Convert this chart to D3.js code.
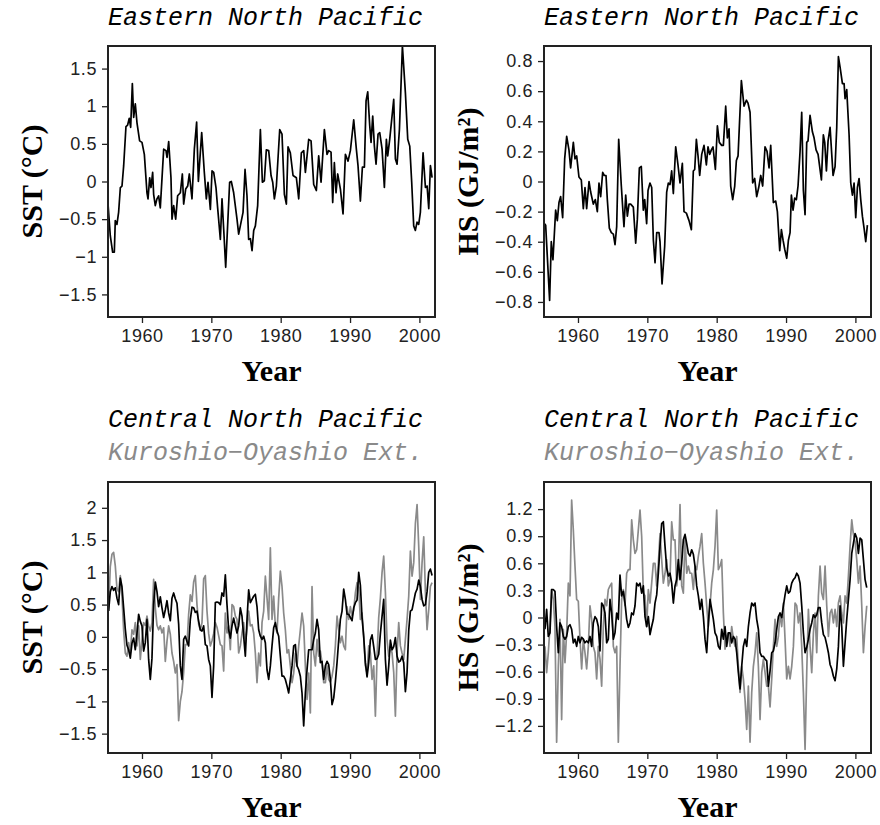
<!DOCTYPE html>
<html>
<head>
<meta charset="utf-8">
<script src="https://cdn.jsdelivr.net/npm/d3@7"></script>
<style>
  body { margin: 0; background: #fff; }
</style>
</head>
<body>
<div id="chart"></div>
<script>
// ---- data ----
const xTicks = [1960, 1970, 1980, 1990, 2000];
const sstTicksTop = [-1.5, -1, -0.5, 0, 0.5, 1, 1.5];
const hsTicksTop = [-0.8, -0.6, -0.4, -0.2, 0, 0.2, 0.4, 0.6, 0.8];
const sstTicksBottom = [-1.5, -1, -0.5, 0, 0.5, 1, 1.5, 2];
const hsTicksBottom = [-1.2, -0.9, -0.6, -0.3, 0, 0.3, 0.6, 0.9, 1.2];

// Eastern North Pacific SST (year, degC)
const enpSstYear = [
  1955.05,1955.43,1955.77,1956.01,1956.15,1956.39,1956.63,1956.88,1957.12,1957.36,
  1957.69,1957.93,1958.17,1958.37,1958.61,1958.80,1959.04,1959.28,1959.66,1960.00,
  1960.34,1960.72,1960.87,1961.11,1961.30,1961.54,1961.68,1961.92,1962.16,1962.40,
  1962.64,1963.13,1963.46,1963.61,1963.85,1964.18,1964.33,1964.57,1964.86,1965.14,
  1965.53,1965.82,1966.01,1966.30,1966.59,1966.83,1967.21,1967.55,1967.88,1968.13,
  1968.61,1968.99,1969.28,1969.52,1969.86,1970.10,1970.34,1970.67,1970.91,1971.30,
  1971.54,1971.78,1972.07,1972.64,1972.88,1973.22,1973.70,1973.94,1974.18,1974.57,
  1974.86,1975.14,1975.38,1975.63,1975.87,1976.11,1976.35,1976.68,1977.07,1977.36,
  1977.64,1977.93,1978.27,1978.61,1978.85,1979.09,1979.38,1979.86,1980.19,1980.53,
  1980.82,1981.06,1981.39,1981.78,1982.26,1982.60,1982.98,1983.32,1983.56,1984.04,
  1984.38,1984.76,1985.14,1985.48,1985.82,1986.30,1986.68,1986.92,1987.26,1987.50,
  1987.74,1987.98,1988.22,1988.61,1988.99,1989.33,1989.71,1990.05,1990.53,1990.91,
  1991.15,1991.49,1991.78,1992.07,1992.31,1992.55,1992.84,1993.03,1993.27,1993.51,
  1993.75,1994.04,1994.28,1994.62,1994.95,1995.24,1995.43,1995.72,1996.30,1996.54,
  1996.78,1997.12,1997.55,1997.98,1998.32,1998.61,1998.89,1999.18,1999.42,1999.66,
  1999.90,2000.14,2000.53,2000.87,2001.11,2001.35,2001.59,2001.83
];
const enpSst = [
  -0.23,-0.72,-0.94,-0.94,-0.52,-0.57,-0.41,-0.08,-0.06,0.21,
  0.73,0.75,0.84,0.72,1.30,0.85,1.03,0.78,0.54,0.52,
  0.36,-0.15,-0.23,0.05,-0.08,0.12,-0.17,-0.32,-0.23,-0.19,
  -0.35,0.43,0.41,0.32,0.53,0.05,-0.50,-0.32,-0.50,-0.19,
  -0.15,0.10,-0.30,-0.10,-0.06,0.10,-0.23,0.43,0.79,0.00,
  0.65,0.12,-0.23,-0.01,-0.37,0.14,0.12,-0.08,-0.35,-0.77,
  -0.23,-0.63,-1.14,-0.01,0.00,-0.15,-0.50,-0.70,-0.59,-0.41,
  0.16,-0.19,-0.77,-0.76,-0.92,-0.65,-0.59,-0.32,0.69,-0.01,
  0.01,0.42,0.41,0.08,-0.01,-0.23,-0.06,0.69,0.63,-0.17,
  -0.30,0.46,0.38,0.08,0.05,-0.23,0.38,0.41,0.12,0.56,
  0.54,-0.04,-0.12,0.34,-0.01,0.69,0.36,0.41,0.39,-0.28,
  0.25,-0.15,0.10,-0.10,-0.43,0.36,0.27,0.41,0.82,0.43,
  0.21,-0.26,0.19,0.19,1.07,1.19,0.74,0.52,0.87,0.47,
  0.23,0.63,0.65,0.43,-0.08,0.56,0.34,0.56,1.09,0.30,
  0.23,0.69,1.80,1.18,0.56,0.47,-0.01,-0.59,-0.65,-0.54,
  -0.57,-0.41,0.38,-0.08,-0.06,-0.36,0.21,0.05
];

// Eastern North Pacific heat storage (year, GJ/m2)
const enpHsYear = [
  1955.19,1955.34,1955.58,1955.91,1956.15,1956.39,1956.78,1957.02,1957.26,1957.50,
  1957.79,1958.08,1958.37,1958.70,1958.94,1959.33,1959.57,1959.81,1960.14,1960.48,
  1960.77,1961.01,1961.25,1961.59,1961.83,1962.21,1962.50,1962.79,1963.03,1963.27,
  1963.56,1963.80,1964.04,1964.23,1964.52,1964.81,1965.10,1965.34,1965.58,1965.87,
  1966.25,1966.54,1966.63,1966.88,1967.12,1967.36,1967.60,1967.98,1968.32,1968.56,
  1968.85,1969.13,1969.42,1969.62,1969.90,1970.10,1970.38,1970.63,1970.87,1971.11,
  1971.35,1971.68,1971.83,1972.12,1972.50,1972.79,1973.03,1973.27,1973.51,1973.75,
  1974.09,1974.42,1974.71,1975.05,1975.29,1975.63,1976.01,1976.35,1976.63,1976.83,
  1977.07,1977.31,1977.55,1977.84,1978.17,1978.51,1978.75,1978.99,1979.23,1979.47,
  1979.81,1980.10,1980.38,1980.72,1980.96,1981.30,1981.54,1981.78,1982.02,1982.31,
  1982.60,1982.84,1983.08,1983.56,1983.94,1984.28,1984.52,1984.81,1985.19,1985.48,
  1985.77,1986.06,1986.35,1986.63,1986.97,1987.26,1987.55,1987.79,1988.17,1988.51,
  1988.75,1989.09,1989.33,1989.57,1989.81,1990.10,1990.34,1990.58,1990.77,1991.01,
  1991.25,1991.49,1991.73,1992.02,1992.26,1992.50,1992.74,1992.98,1993.17,1993.46,
  1993.80,1994.04,1994.33,1994.62,1994.90,1995.10,1995.38,1995.58,1995.82,1996.06,
  1996.35,1996.59,1996.78,1997.07,1997.31,1997.55,1997.79,1998.13,1998.37,1998.51,
  1998.75,1999.09,1999.33,1999.57,1999.81,2000.05,2000.29,2000.53,2000.77,2001.01,
  2001.25,2001.49,2001.73
];
const enpHs = [
  -0.28,-0.29,-0.50,-0.79,-0.40,-0.52,-0.19,-0.26,-0.14,-0.10,
  -0.24,0.15,0.30,0.21,0.09,0.26,0.15,0.17,0.03,0.01,
  -0.18,-0.04,-0.18,0.00,-0.07,-0.15,-0.12,-0.20,-0.01,-0.10,
  0.06,0.04,0.04,-0.12,-0.31,-0.34,-0.35,-0.42,-0.30,0.28,
  -0.03,-0.24,-0.30,-0.09,-0.23,-0.15,-0.15,-0.17,-0.41,-0.25,
  0.09,0.10,-0.19,-0.12,-0.28,-0.06,-0.01,-0.04,-0.39,-0.54,
  -0.34,-0.34,-0.40,-0.68,-0.43,-0.07,-0.01,-0.02,0.07,-0.08,
  0.23,0.11,-0.01,0.12,-0.20,-0.21,-0.26,-0.32,0.07,0.08,
  0.28,0.17,0.04,0.18,0.24,0.11,0.23,0.18,0.21,0.23,
  0.08,0.37,0.26,0.24,0.24,0.50,0.29,0.35,-0.03,-0.12,
  -0.03,0.14,0.17,0.67,0.50,0.54,0.52,0.46,-0.01,0.02,
  -0.10,-0.04,0.04,-0.03,0.23,0.20,0.09,0.24,-0.14,-0.13,
  -0.20,-0.46,-0.32,-0.39,-0.45,-0.51,-0.39,-0.34,-0.09,-0.19,
  -0.11,-0.12,-0.03,0.20,0.46,-0.06,-0.22,0.26,0.27,0.44,
  0.33,0.29,0.21,0.18,0.08,0.01,0.31,0.26,0.07,0.27,
  0.36,0.18,0.04,0.10,0.36,0.83,0.76,0.65,0.65,0.55,
  0.61,0.31,-0.01,-0.09,-0.01,-0.24,-0.04,0.02,-0.12,-0.23,
  -0.31,-0.40,-0.29
];

// bottom panels: evenly spaced samples (about 0.24 yr apart)
const sampleStep = 0.2404;
const sstStart = 1955.19;
const hsStart = 1955.24;

// Central North Pacific SST
const cnpSst = [
  0.40,0.70,0.78,0.72,0.76,0.60,0.50,0.91,0.78,0.45,
  0.12,-0.13,-0.20,-0.33,-0.10,-0.02,-0.20,0.05,0.35,0.24,
  0.17,-0.22,-0.09,0.27,-0.35,-0.66,-0.33,0.50,0.85,0.70,
  0.47,0.62,0.45,0.30,0.42,0.56,0.37,0.25,0.60,0.68,
  0.59,0.52,0.20,-0.45,-0.66,-0.04,0.01,-0.07,-0.14,0.27,
  0.46,0.45,0.38,0.40,0.24,0.11,0.09,0.17,-0.12,-0.14,
  -0.35,-0.45,-0.94,-0.45,0.53,0.54,0.53,0.50,
  0.68,0.63,0.96,0.50,0.11,-0.02,0.17,0.29,0.17,0.06,
  0.17,0.45,0.32,0.01,-0.30,0.27,0.73,0.53,0.58,0.63,
  0.66,0.47,0.11,0.01,-0.04,0.01,-0.09,-0.51,-0.66,-0.45,
  -0.14,0.14,0.22,0.09,0.01,-0.30,-0.61,-0.61,-0.66,-0.76,
  -0.87,-0.66,-0.45,-0.14,-0.12,-0.45,-0.51,-0.61,-0.87,-1.38,
  -0.87,-0.51,-0.20,-0.20,-0.20,-0.04,0.06,0.27,0.11,-0.40,
  -0.38,-0.66,-0.45,-0.38,-0.43,-0.66,
  -1.05,-0.95,-0.70,-0.40,-0.05,0.27,0.40,0.74,0.58,0.35,
  0.35,0.30,0.25,0.45,0.53,0.57,1.00,0.80,0.30,0.00,
  -0.40,-0.62,-0.40,-0.05,0.03,-0.15,-0.35,-0.34,-0.27,0.05,
  0.32,0.58,-0.35,-0.75,-0.45,-0.05,-0.20,-0.15,-0.01,-0.30,
  -0.39,-0.37,-0.30,-0.40,-0.85,-0.55,0.10,0.40,0.42,0.55,
  0.68,0.74,0.88,0.78,0.58,0.48,0.50,0.70,1.00,1.05,
  0.95
];
// Kuroshio-Oyashio Extension SST
const koeSst = [
  0.40,1.09,1.28,1.31,1.10,0.75,0.70,0.95,0.63,0.11,
  -0.25,-0.30,-0.09,-0.25,0.11,0.04,0.22,-0.14,0.17,-0.35,
  -0.05,0.22,0.18,0.32,0.17,0.09,0.22,0.89,0.45,0.18,
  0.11,0.17,0.06,0.14,-0.38,-0.07,0.17,0.04,-0.25,-0.38,
  -0.56,-0.43,-1.30,-1.00,-0.85,-0.55,-0.12,-0.12,0.35,0.65,
  0.55,0.85,0.95,0.50,0.20,0.10,0.22,0.90,0.95,0.40,
  0.05,-0.14,-0.06,0.05,0.22,0.15,0.02,-0.12,
  -0.14,-0.53,0.37,0.06,0.17,-0.20,0.50,0.47,0.32,0.27,
  -0.25,-0.14,0.06,0.22,-0.09,0.11,0.40,0.17,0.19,0.06,
  -0.25,-0.71,-0.25,-0.45,0.22,0.40,0.94,0.60,0.27,1.38,
  0.27,0.63,0.17,0.06,0.60,1.02,0.78,0.37,0.11,-0.25,
  -0.20,-0.45,-0.71,-0.56,-0.25,-0.45,-0.14,0.11,0.37,0.17,
  -0.45,-0.97,-0.56,-1.18,0.78,-0.25,-0.45,-0.04,-0.30,-0.22,
  -0.40,-0.71,-0.71,-0.45,-0.66,-0.70,
  -0.61,-0.45,-0.14,0.32,0.11,-0.09,0.01,-0.14,-0.20,0.47,
  0.27,0.47,0.32,0.42,0.68,0.84,0.76,0.27,0.37,0.01,
  -0.45,-0.56,-0.14,-0.25,-0.66,-0.45,-1.23,-0.30,0.30,0.60,
  1.00,1.25,0.70,-0.05,-0.30,-0.15,-0.25,-0.55,-1.23,-0.25,
  0.22,-0.14,-0.25,-0.35,-0.04,0.27,0.63,1.33,0.94,1.15,
  1.76,2.05,1.40,0.58,1.15,1.55,0.70,0.11,0.42,0.78,
  0.84
];

// Central North Pacific heat storage
const cnpHs = [
  -0.13,0.09,-0.21,-0.17,0.31,0.31,0.29,-0.10,-0.39,-0.06,
  -0.10,-0.21,-0.24,-0.21,-0.10,-0.08,-0.13,-0.28,-0.24,-0.32,
  -0.21,-0.28,-0.22,-0.24,-0.28,-0.26,-0.28,-0.21,-0.32,-0.06,
  0.01,-0.02,-0.10,-0.37,0.16,0.13,0.05,-0.28,-0.24,0.20,
  0.05,-0.24,-0.17,0.05,-0.02,0.47,0.24,0.29,0.16,-0.02,
  -0.11,-0.06,0.05,0.03,0.13,0.38,0.35,0.38,0.27,0.35,
  0.01,-0.10,0.01,-0.19,-0.10,-0.02,0.16,0.25,
  0.49,0.79,1.04,1.06,0.79,0.55,0.46,0.49,0.38,0.16,
  0.35,0.42,0.64,0.42,0.60,0.86,0.92,0.82,0.71,0.68,
  0.75,0.70,0.57,0.35,0.24,0.09,0.20,0.01,-0.24,-0.39,
  -0.06,0.20,0.09,-0.02,-0.17,-0.21,-0.32,-0.35,-0.13,-0.24,
  -0.10,-0.32,-0.17,-0.17,-0.28,-0.21,-0.24,-0.39,-0.61,-0.79,
  -0.54,-0.32,-0.24,-0.32,-0.10,0.05,0.16,0.13,0.16,-0.02,
  -0.13,-0.39,-0.43,-0.43,-0.46,-0.48,
  -0.76,-0.59,-0.39,-0.37,-0.28,-0.13,0.01,0.05,0.00,0.13,
  0.25,0.35,0.27,0.29,0.38,0.42,0.44,0.49,0.46,0.38,
  0.13,-0.17,-0.39,-0.33,-0.24,-0.13,-0.06,0.03,0.00,0.03,
  0.11,0.11,-0.06,-0.19,-0.22,-0.30,-0.39,-0.52,-0.57,-0.65,
  -0.70,-0.57,-0.32,0.13,-0.10,-0.54,-0.28,-0.02,0.20,0.42,
  0.71,0.82,0.93,0.88,0.71,0.88,0.86,0.64,0.42,0.33
];
// Kuroshio-Oyashio Extension heat storage
const koeHs = [
  -0.32,-0.61,-0.39,-0.10,0.31,0.20,-0.10,-1.38,-0.54,-0.02,
  -1.13,-0.13,-0.50,-0.17,0.38,0.24,1.30,0.97,0.57,0.20,
  0.18,-0.24,-0.57,-0.24,-0.39,-0.57,-0.32,0.13,-0.02,-0.32,
  -0.39,-0.68,-0.32,-0.46,-0.76,-0.10,0.20,0.13,0.31,0.35,
  0.38,-0.32,-0.39,-0.32,-1.38,-0.54,0.20,0.31,0.13,0.49,
  0.53,0.53,1.08,0.86,0.71,0.75,0.97,1.19,0.90,0.27,
  0.24,-0.10,0.31,0.16,0.38,0.60,0.60,0.35,
  0.60,0.93,0.64,0.38,0.49,0.64,0.35,0.42,1.06,0.86,
  0.86,0.35,0.53,1.25,0.35,0.27,0.90,0.49,0.57,0.49,
  0.49,0.31,0.57,0.53,0.68,0.79,0.93,0.60,0.38,0.13,
  -0.10,0.13,0.38,0.53,0.79,1.19,0.53,0.57,0.64,0.05,
  -0.35,-0.21,-0.17,-0.32,-0.10,-0.24,-0.32,-0.21,-0.54,-0.83,
  -0.54,-0.68,-0.91,-1.24,-0.76,-1.38,-0.83,-0.54,-0.39,-0.17,
  -0.54,-1.13,-0.61,-0.46,-0.61,-0.76,
  -0.76,-0.99,-0.68,-0.32,-0.02,-0.32,-0.21,0.05,-0.10,0.16,
  -0.24,-0.68,-0.54,-0.68,-0.54,-0.32,0.16,0.13,-0.06,0.05,
  -0.32,-0.83,-1.46,-0.61,0.09,-0.32,-0.61,-0.17,0.05,-0.39,
  0.24,0.57,0.27,0.20,0.57,0.13,-0.21,0.05,0.09,-0.06,
  0.09,-0.10,0.16,0.24,0.05,-0.06,0.24,0.16,0.46,0.79,
  1.08,0.92,0.84,0.64,0.38,0.57,0.13,-0.39,-0.10,0.13
];

// ---- layout ----
const width = 880, height = 825;
const panelW = 327, panelH = 271;
const xDomain = [1955.1, 2002.25];
const gray = "#8a8a8a";
const titleFont = "'Liberation Mono', 'Courier New', monospace";
const labelFont = "'Liberation Serif', 'Times New Roman', serif";
const tickFont = "'Liberation Sans', Arial, sans-serif";

const toPoints = (xs, ys) => ys.map((v, i) => [xs[i], v]);
const evenPoints = (start, ys) => ys.map((v, i) => [start + i * sampleStep, v]);

const panels = [
  {
    left: 108, top: 46, yDomain: [-1.8, 1.8], yTicks: sstTicksTop, yLabel: "SST (°C)",
    titles: [{ text: "Eastern North Pacific", color: "#000", y: 25 }],
    series: [{ points: toPoints(enpSstYear, enpSst), color: "#000" }]
  },
  {
    left: 544, top: 46, yDomain: [-0.9, 0.9], yTicks: hsTicksTop, yLabel: "HS (GJ/m²)",
    titles: [{ text: "Eastern North Pacific", color: "#000", y: 25 }],
    series: [{ points: toPoints(enpHsYear, enpHs), color: "#000" }]
  },
  {
    left: 108, top: 482, yDomain: [-1.8, 2.4], yTicks: sstTicksBottom, yLabel: "SST (°C)",
    titles: [
      { text: "Central North Pacific", color: "#000", y: 427 },
      { text: "Kuroshio−Oyashio Ext.", color: gray, y: 460 }
    ],
    series: [
      { points: evenPoints(sstStart, koeSst), color: gray },
      { points: evenPoints(sstStart, cnpSst), color: "#000" }
    ]
  },
  {
    left: 544, top: 482, yDomain: [-1.5, 1.5], yTicks: hsTicksBottom, yLabel: "HS (GJ/m²)",
    titles: [
      { text: "Central North Pacific", color: "#000", y: 427 },
      { text: "Kuroshio−Oyashio Ext.", color: gray, y: 460 }
    ],
    series: [
      { points: evenPoints(hsStart, koeHs), color: gray },
      { points: evenPoints(hsStart, cnpHs), color: "#000" }
    ]
  }
];

const svg = d3.select("#chart").append("svg")
    .attr("width", width)
    .attr("height", height)
    .style("background", "#fff");

const fmt = d3.format("~g");

panels.forEach((p, idx) => {
    const x = d3.scaleLinear().domain(xDomain).range([p.left, p.left + panelW]);
    const y = d3.scaleLinear().domain(p.yDomain).range([p.top + panelH, p.top]);

    // titles above the frame
    p.titles.forEach(t => {
        svg.append("text")
            .attr("x", p.left)
            .attr("y", t.y)
            .attr("fill", t.color)
            .style("font-family", titleFont)
            .style("font-style", "italic")
            .style("font-size", "25px")
            .text(t.text);
    });

    // clip so the lines stay inside the frame
    const clipId = "clip" + idx;
    svg.append("clipPath").attr("id", clipId)
        .append("rect")
        .attr("x", p.left).attr("y", p.top)
        .attr("width", panelW).attr("height", panelH);

    const line = d3.line().x(d => x(d[0])).y(d => y(d[1]));

    const g = svg.append("g").attr("clip-path", `url(#${clipId})`);
    p.series.forEach(s => {
        g.append("path")
            .datum(s.points)
            .attr("d", line)
            .attr("fill", "none")
            .attr("stroke", s.color)
            .attr("stroke-width", 1.7)
            .attr("stroke-linejoin", "round");
    });

    // axes
    const xAxis = svg.append("g")
        .attr("transform", `translate(0,${p.top + panelH})`)
        .call(d3.axisBottom(x).tickValues(xTicks).tickFormat(d3.format("d"))
            .tickSize(6).tickSizeOuter(0).tickPadding(6));
    const yAxis = svg.append("g")
        .attr("transform", `translate(${p.left},0)`)
        .call(d3.axisLeft(y).tickValues(p.yTicks).tickFormat(fmt)
            .tickSize(6).tickSizeOuter(0).tickPadding(5));

    [xAxis, yAxis].forEach(ax => {
        ax.select(".domain").remove();
        ax.selectAll(".tick line").attr("stroke", "#222").attr("stroke-width", 1.3);
        ax.selectAll(".tick text")
            .attr("fill", "#222")
            .style("font-family", tickFont)
            .style("font-size", "18px")
            .style("letter-spacing", "0.6px");
    });

    // frame
    svg.append("rect")
        .attr("x", p.left).attr("y", p.top)
        .attr("width", panelW).attr("height", panelH)
        .attr("fill", "none")
        .attr("stroke", "#222")
        .attr("stroke-width", 2);

    // axis titles
    svg.append("text")
        .attr("x", p.left + panelW / 2)
        .attr("y", p.top + panelH + 64)
        .attr("text-anchor", "middle")
        .style("font-family", labelFont)
        .style("font-weight", "bold")
        .style("font-size", "30px")
        .text("Year");

    svg.append("text")
        .attr("transform", `translate(${p.left - 66},${p.top + panelH / 2}) rotate(-90)`)
        .attr("text-anchor", "middle")
        .style("font-family", labelFont)
        .style("font-weight", "bold")
        .style("font-size", "30px")
        .text(p.yLabel);
});
</script>
</body>
</html>
